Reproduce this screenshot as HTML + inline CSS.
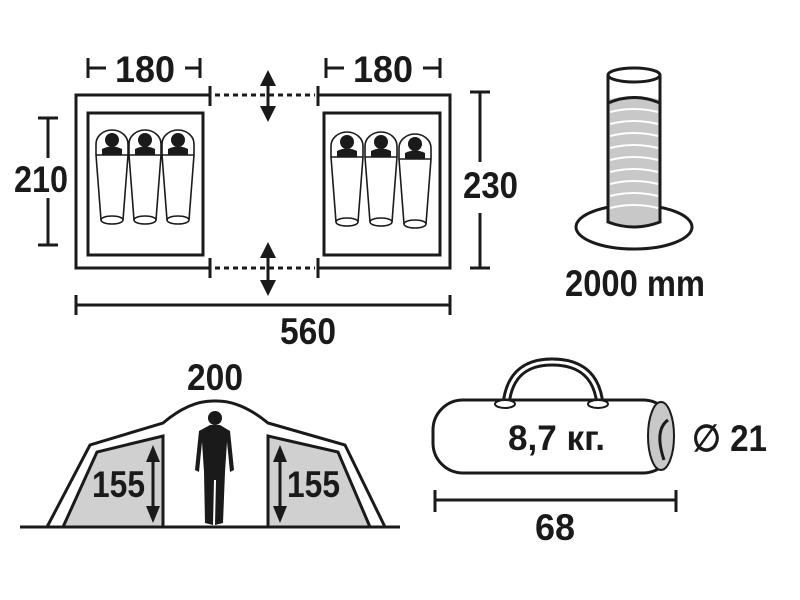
<!DOCTYPE html>
<html><head><meta charset="utf-8"><style>
html,body{margin:0;padding:0;background:#fff;}
svg{display:block;}
text{font-family:"Liberation Sans",sans-serif;font-weight:bold;fill:#1a1a1a;}
</style></head><body>
<svg width="800" height="600" viewBox="0 0 800 600" xmlns="http://www.w3.org/2000/svg">
<defs>
<g id="bag">
  <path d="M-16,25 L-16,14 A16,14 0 0 1 16,14 L16,25" fill="none" stroke="#1a1a1a" stroke-width="1.6"/>
  <circle cx="0" cy="10" r="7" fill="#1a1a1a"/>
  <path d="M-10,25 L-10,19 Q0,14 10,19 L10,25 Z" fill="#1a1a1a"/>
  <line x1="-16" y1="25" x2="16" y2="25" stroke="#1a1a1a" stroke-width="1.6"/>
  <path d="M-16,25 L-11,90 M16,25 L11,90" fill="none" stroke="#1a1a1a" stroke-width="1.6"/>
  <ellipse cx="0" cy="90" rx="11" ry="4" fill="#fff" stroke="#1a1a1a" stroke-width="1.6"/>
</g>
</defs>
<g stroke="#1a1a1a" stroke-width="3" fill="none">
  <path d="M210,95 L76,95 L76,268 L210,268"/>
  <path d="M318,95 L450,95 L450,268 L318,268"/>
  <path d="M210,86 V106 M318,86 V106 M210,258 V278 M318,258 V278"/>
  <path d="M215,95 H315 M215,268 H315" stroke-dasharray="5,4"/>
  <rect x="88" y="113" width="115" height="142"/>
  <rect x="324" y="113" width="116" height="142"/>
  <path d="M88,58 V78 M88,68 H106 M185,68 H200 M200,58 V78"/>
  <path d="M326,58 V78 M326,68 H344 M423,68 H440 M440,58 V78"/>
  <path d="M38,118 H58 M48,118 V158 M48,198 V245 M38,245 H58"/>
  <path d="M470,92 H490 M480,92 V162 M480,213 V268 M470,268 H490"/>
  <path d="M76,295 V315 M76,305 H450 M450,295 V315"/>
  <path d="M268,84 V108 M268,255 V283"/>
</g>
<g fill="#1a1a1a">
  <path d="M268,70 L276,86 L260,86 Z M268,122 L276,106 L260,106 Z"/>
  <path d="M268,242 L276,258 L260,258 Z M268,296 L276,280 L260,280 Z"/>
</g>
<use href="#bag" x="112" y="130"/><use href="#bag" x="145" y="130"/><use href="#bag" x="178" y="130"/>
<use href="#bag" x="347" y="132"/><use href="#bag" x="381" y="132"/><use href="#bag" x="415" y="134"/>
<text x="115" y="82" font-size="37" textLength="60" lengthAdjust="spacingAndGlyphs">180</text>
<text x="353" y="82" font-size="37" textLength="60" lengthAdjust="spacingAndGlyphs">180</text>
<text x="14" y="192" font-size="37" textLength="54" lengthAdjust="spacingAndGlyphs">210</text>
<text x="463" y="198" font-size="37" textLength="55" lengthAdjust="spacingAndGlyphs">230</text>
<text x="280" y="344" font-size="37" textLength="56" lengthAdjust="spacingAndGlyphs">560</text>

<ellipse cx="634" cy="227" rx="58" ry="22" fill="#fff" stroke="#1a1a1a" stroke-width="3"/>
<path d="M608,100 Q634,92 660,100 V222 Q634,232 608,222 Z" fill="#c8c8c8"/>
<g stroke="#fff" stroke-width="2" fill="none">
  <path d="M610,112 Q634,106 658,112 M610,124 Q634,118 658,124 M610,136 Q634,130 658,136 M610,148 Q634,142 658,148 M610,160 Q634,154 658,160 M610,172 Q634,166 658,172 M610,184 Q634,178 658,184 M610,196 Q634,190 658,196 M610,208 Q634,202 658,208"/>
</g>
<path d="M608,75 V222 Q634,232 660,222 V75" fill="none" stroke="#1a1a1a" stroke-width="3"/>
<path d="M608,103 Q634,92 660,103" fill="none" stroke="#1a1a1a" stroke-width="3"/>
<ellipse cx="634" cy="75" rx="26" ry="7" fill="#fff" stroke="#1a1a1a" stroke-width="3"/>
<text x="565" y="296" font-size="37" textLength="140" lengthAdjust="spacingAndGlyphs">2000 mm</text>

<path d="M63,527 L97,452 L163,436 V527 Z" fill="#d0d0d0" stroke="#1a1a1a" stroke-width="3"/>
<path d="M370,527 L338,452 L268,436 V527 Z" fill="#d0d0d0" stroke="#1a1a1a" stroke-width="3"/>
<path d="M47,527 L90,445 L163,423 Q190,400 215,401 Q240,400 268,423 L345,445 L385,527" fill="none" stroke="#1a1a1a" stroke-width="3"/>
<line x1="20" y1="527" x2="400" y2="527" stroke="#1a1a1a" stroke-width="3"/>
<g stroke="#1a1a1a" stroke-width="3"><line x1="153" y1="458" x2="153" y2="510"/><line x1="280" y1="458" x2="280" y2="510"/></g>
<g fill="#1a1a1a">
  <path d="M153,445 L160,462 L146,462 Z M153,523 L160,506 L146,506 Z M280,445 L287,462 L273,462 Z M280,523 L287,506 L273,506 Z"/>
  <circle cx="215" cy="418" r="7"/>
  <path d="M210,425 H220 L230,431 L234,470 L230,472 L227,442 L225,472 L223,523 L215,525 L216,480 L214,480 L213,525 L205,523 L204,472 L202,442 L199,472 L195,470 L199,431 Z"/>
</g>
<text x="92" y="497" font-size="37" textLength="53" lengthAdjust="spacingAndGlyphs">155</text>
<text x="287" y="497" font-size="37" textLength="53" lengthAdjust="spacingAndGlyphs">155</text>
<text x="187" y="390" font-size="37" textLength="56" lengthAdjust="spacingAndGlyphs">200</text>

<path d="M506,405 Q510,362 552,362 Q596,362 600,405" fill="none" stroke="#1a1a1a" stroke-width="9"/>
<path d="M506,405 Q510,362 552,362 Q596,362 600,405" fill="none" stroke="#fff" stroke-width="3"/>
<rect x="433" y="400" width="240" height="73" rx="30" fill="#fff" stroke="#1a1a1a" stroke-width="3"/>
<ellipse cx="505" cy="404" rx="10" ry="4" fill="#fff" stroke="#1a1a1a" stroke-width="2"/>
<ellipse cx="598" cy="404" rx="10" ry="4" fill="#fff" stroke="#1a1a1a" stroke-width="2"/>
<ellipse cx="661" cy="436" rx="13" ry="34" fill="#c8c8c8" stroke="#1a1a1a" stroke-width="2"/>
<path d="M668,420 Q654,430 664,460" fill="none" stroke="#1a1a1a" stroke-width="3"/>
<text x="508" y="450" font-size="35" textLength="97" lengthAdjust="spacingAndGlyphs">8,7 кг.</text>
<text x="692" y="451" font-size="37" textLength="75" lengthAdjust="spacingAndGlyphs">∅ 21</text>
<path d="M435,490 V512 M435,500 H676 M676,490 V512" stroke="#1a1a1a" stroke-width="3" fill="none"/>
<text x="535" y="540" font-size="37" textLength="40" lengthAdjust="spacingAndGlyphs">68</text>
</svg>
</body></html>
